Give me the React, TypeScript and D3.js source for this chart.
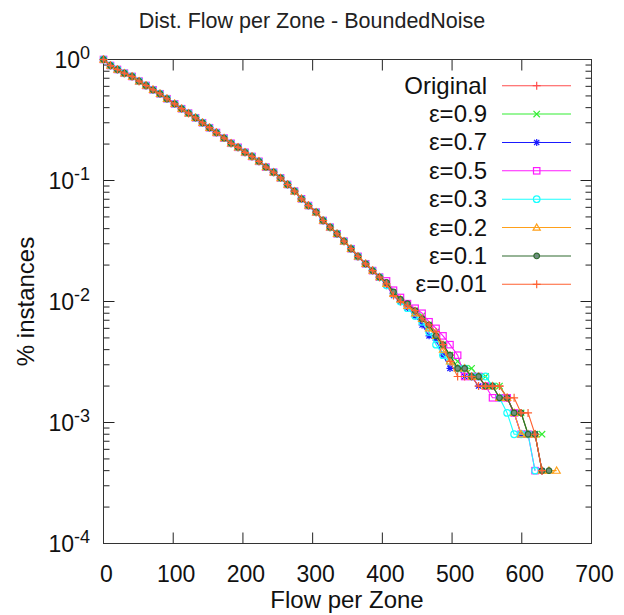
import React from "react";
import * as d3 from "d3";

// flow value of each point (bin positions)
const flow = [
  0, 10, 20, 30, 41, 51, 61, 71, 81, 91, 102, 112, 122, 132, 142, 152, 162,
  173, 183, 193, 203, 213, 223, 233, 244, 254, 264, 274, 284, 294, 305, 315,
  325, 335, 345, 355, 365, 376, 386, 396, 406, 416, 426, 436, 447, 457, 467,
  477, 487, 497, 508, 518, 528, 538, 548, 558, 568, 579, 589, 599, 609, 619,
  629, 639, 650,
];

// shared part of the curve (all series overlap up to ~400)
const head = [
  1.0, 0.892, 0.827, 0.77, 0.724, 0.662, 0.61, 0.562, 0.521, 0.474, 0.43,
  0.392, 0.36, 0.33, 0.3, 0.273, 0.249, 0.224, 0.203, 0.188, 0.171, 0.158,
  0.144, 0.129, 0.117, 0.105, 0.0927, 0.0816, 0.0706, 0.0621, 0.0547, 0.0467,
  0.0411, 0.0363, 0.0315, 0.0273, 0.0236, 0.0205, 0.018, 0.0159,
];

// tails, from the 41st point on
const tailOriginal = [0.0136, 0.0116, 0.0104, 0.0092, 0.008, 0.0072, 0.006, 0.0052, 0.0044, 0.0036, 0.0028, 0.0028, 0.0024, 0.0024, 0.002, 0.002, 0.002, 0.0016, 0.0012, 0.0012, 0.0008, 0.0008, 0.0004];
const tail09 = [0.014, 0.012, 0.0104, 0.0096, 0.0084, 0.0076, 0.0064, 0.0056, 0.0044, 0.0036, 0.0032, 0.0028, 0.0028, 0.0024, 0.0024, 0.002, 0.002, 0.0016, 0.0012, 0.0012, 0.0008, 0.0008, 0.0008];
const tail07 = [0.0136, 0.0112, 0.01, 0.0088, 0.0076, 0.0064, 0.0052, 0.0048, 0.0036, 0.0028, 0.0028, 0.0024, 0.0024, 0.002, 0.002, 0.002, 0.0016, 0.0016, 0.0012, 0.0008, 0.0008, 0.0008, 0.0004];
const tail05 = [0.0148, 0.0124, 0.0108, 0.0096, 0.0088, 0.008, 0.0068, 0.006, 0.0052, 0.0044, 0.0036, 0.0024, 0.0024, 0.0024, 0.002, 0.0016, 0.0016, 0.0016, 0.0012, 0.0008, 0.0008, 0.0004];
const tail03 = [0.0136, 0.0116, 0.01, 0.0088, 0.0076, 0.0068, 0.0056, 0.0044, 0.0036, 0.0032, 0.0028, 0.0028, 0.0024, 0.0024, 0.0024, 0.002, 0.0016, 0.0012, 0.0008, 0.0008, 0.0008, 0.0004];
const tail02 = [0.014, 0.0116, 0.0104, 0.0092, 0.008, 0.0072, 0.006, 0.0052, 0.004, 0.0032, 0.0028, 0.0028, 0.0024, 0.0024, 0.002, 0.002, 0.0016, 0.0016, 0.0012, 0.0008, 0.0008, 0.0008, 0.0004, 0.0004, 0.0004];
const tail01 = [0.0144, 0.012, 0.0104, 0.0096, 0.0084, 0.0072, 0.0064, 0.0052, 0.0044, 0.0036, 0.0028, 0.0028, 0.0024, 0.0024, 0.002, 0.002, 0.0016, 0.0016, 0.0012, 0.0012, 0.0008, 0.0008, 0.0004, 0.0004];
const tail001 = [0.014, 0.0112, 0.01, 0.0092, 0.0084, 0.0072, 0.0064, 0.0056, 0.0044, 0.0032, 0.0024, 0.0024, 0.0024, 0.002, 0.002, 0.002, 0.002, 0.0016, 0.0016, 0.0012, 0.0012, 0.0008, 0.0004];

const labels = ["Original", "ε=0.9", "ε=0.7", "ε=0.5", "ε=0.3", "ε=0.2", "ε=0.1", "ε=0.01"];
const tails = [tailOriginal, tail09, tail07, tail05, tail03, tail02, tail01, tail001];

const xTicks = [0, 100, 200, 300, 400, 500, 600, 700];
const yExps = [0, -1, -2, -3, -4];

const colors = ["#ff4c4c", "#33ee33", "#1a1aff", "#ff1aff", "#1affff", "#ffa01a", "#2e6b2e", "#ff6030"];
const markers = ["plus", "cross", "star", "square", "circle", "triangle", "dot", "plus"];

const FONT = "'Liberation Sans', Arial, sans-serif";

const W = 624;
const H = 615;
const left = 103.5;
const right = 591.5;
const top = 59.5;
const bottom = 543.5;

function Marker({ type, x, y, color }: { type: string; x: number; y: number; color: string }) {
  const t = `translate(${x},${y})`;
  switch (type) {
    case "plus":
      return <path transform={t} d="M-4,0H4M0,-4V4" stroke={color} strokeWidth={1.2} fill="none" />;
    case "cross":
      return <path transform={t} d="M-3.2,-3.2L3.2,3.2M-3.2,3.2L3.2,-3.2" stroke={color} strokeWidth={1.2} fill="none" />;
    case "star":
      return <path transform={t} d="M-3.5,0H3.5M0,-3.5V3.5M-2.6,-2.6L2.6,2.6M-2.6,2.6L2.6,-2.6" stroke={color} strokeWidth={1.2} fill="none" />;
    case "square":
      return <rect transform={t} x={-3.2} y={-3.2} width={6.4} height={6.4} stroke={color} strokeWidth={1.2} fill="none" />;
    case "circle":
      return <circle transform={t} r={3.3} stroke={color} strokeWidth={1.2} fill="none" />;
    case "triangle":
      return <path transform={t} d="M0,-3.6L3.6,2.6H-3.6Z" stroke={color} strokeWidth={1.2} fill="none" />;
    default:
      return <circle transform={t} r={2.8} stroke={color} strokeWidth={1.2} fill="#6f8f7f" />;
  }
}

export default function App() {
  const x = d3.scaleLinear().domain([0, 700]).range([left, right]);
  const y = d3.scaleLog().domain([1e-4, 1]).range([bottom, top]);

  const series = tails.map((tail) => {
    const vals = head.concat(tail);
    return vals.map((v, j) => [flow[j], v] as [number, number]);
  });

  const line = d3
    .line<[number, number]>()
    .x((d) => x(d[0]))
    .y((d) => y(d[1]));

  const minorTicks: number[] = [];
  yExps.slice(0, 4).forEach((e) => {
    for (let m = 2; m <= 9; m++) minorTicks.push(m * Math.pow(10, e - 1));
  });

  const legendY = d3.scaleLinear().domain([0, 7]).range([85.7, 284.3]);

  return (
    <div style={{ position: "absolute", left: 0, top: 0 }}>
      <svg width={W} height={H} style={{ display: "block", background: "#fff" }} fontFamily={FONT}>
        {/* title */}
        <text x={312} y={28} textAnchor="middle" fontSize={21.5} fill="#222">
          Dist. Flow per Zone - BoundedNoise
        </text>

        {/* ticks */}
        <g stroke="#222" strokeWidth={1}>
          {xTicks.slice(1, -1).map((t) => (
            <g key={"xt" + t}>
              <line x1={x(t)} x2={x(t)} y1={bottom} y2={bottom - 11} />
              <line x1={x(t)} x2={x(t)} y1={top} y2={top + 11} />
            </g>
          ))}
          {yExps.slice(1, -1).map((e) => (
            <g key={"yt" + e}>
              <line x1={left} x2={left + 11} y1={y(Math.pow(10, e))} y2={y(Math.pow(10, e))} />
              <line x1={right} x2={right - 11} y1={y(Math.pow(10, e))} y2={y(Math.pow(10, e))} />
            </g>
          ))}
          {minorTicks.map((v, i) => (
            <g key={"ym" + i}>
              <line x1={left} x2={left + 6} y1={y(v)} y2={y(v)} />
              <line x1={right} x2={right - 6} y1={y(v)} y2={y(v)} />
            </g>
          ))}
        </g>

        {/* frame */}
        <rect x={left} y={top} width={right - left} height={bottom - top} fill="none" stroke="#333" strokeWidth={1} />

        {/* x tick labels */}
        {xTicks.map((t) => (
          <text key={"xl" + t} x={x(t) + 3} y={582} textAnchor="middle" fontSize={23} fill="#111">
            {t}
          </text>
        ))}

        {/* y tick labels */}
        {yExps.map((e) => (
          <text key={"yl" + e} x={90} y={y(Math.pow(10, e)) + 8} textAnchor="end" fontSize={23} fill="#111">
            10
            <tspan dy={-9} fontSize={18}>
              {e === 0 ? "0" : "-" + -e}
            </tspan>
          </text>
        ))}

        {/* axis labels */}
        <text x={347} y={608} textAnchor="middle" fontSize={24} fill="#111">
          Flow per Zone
        </text>
        <text transform={`translate(34,${(top + bottom) / 2}) rotate(-90)`} textAnchor="middle" fontSize={24} fill="#111">
          % instances
        </text>

        {/* series */}
        {series.map((data, i) => (
          <g key={"s" + i}>
            <path d={line(data) || ""} fill="none" stroke={colors[i]} strokeWidth={1.1} />
            {data.map((d, j) => (
              <Marker key={j} type={markers[i]} x={x(d[0])} y={y(d[1])} color={colors[i]} />
            ))}
          </g>
        ))}

        {/* legend */}
        {labels.map((lab, i) => (
          <g key={"lg" + i}>
            <text x={487} y={legendY(i) + 8} textAnchor="end" fontSize={24} fill="#111">
              {lab}
            </text>
            <line x1={502} x2={571} y1={legendY(i)} y2={legendY(i)} stroke={colors[i]} strokeWidth={1.1} />
            <Marker type={markers[i]} x={536.7} y={legendY(i)} color={colors[i]} />
          </g>
        ))}
      </svg>
    </div>
  );
}
